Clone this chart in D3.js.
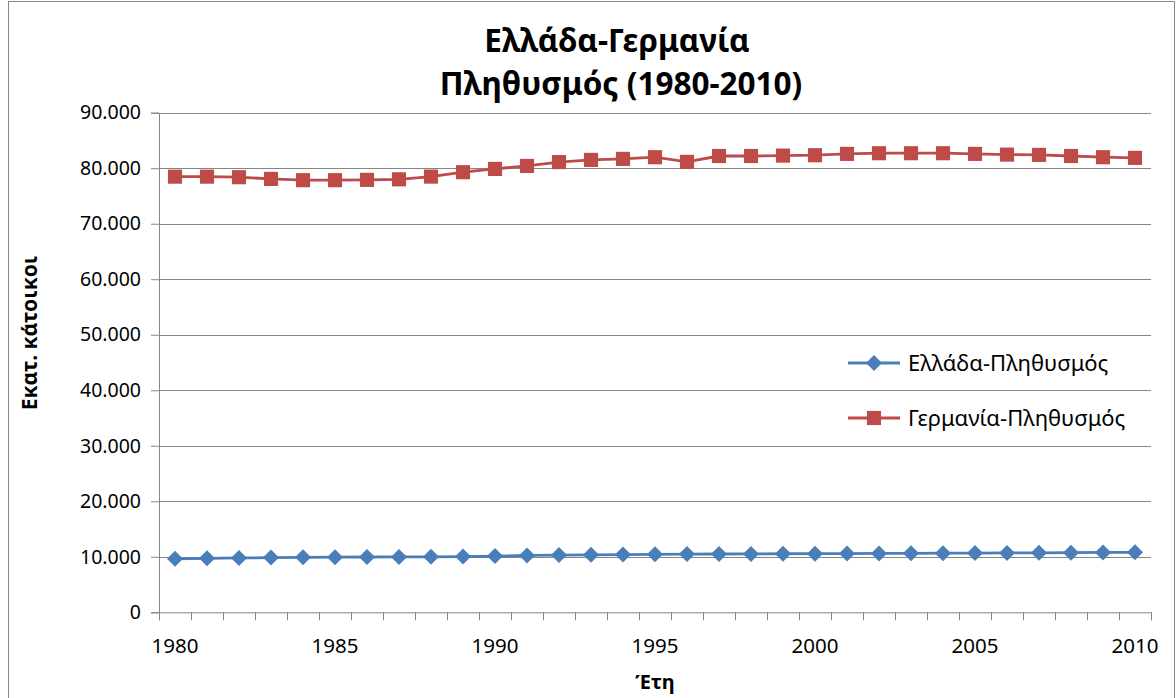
<!DOCTYPE html>
<html>
<head>
<meta charset="utf-8">
<script src="https://cdn.jsdelivr.net/npm/d3@7"></script>
<style>
  html, body { margin: 0; padding: 0; background: #fff; }
  svg { display: block; font-family: "Noto Sans", "DejaVu Sans", sans-serif; }
</style>
</head>
<body>
<svg id="chart" width="1176" height="698"></svg>
<script>
// ---- Data ----
const years = [1980,1981,1982,1983,1984,1985,1986,1987,1988,1989,1990,1991,1992,1993,1994,1995,1996,1997,1998,1999,2000,2001,2002,2003,2004,2005,2006,2007,2008,2009,2010];
const greece = [9640,9730,9790,9850,9900,9930,9960,9980,10000,10040,10120,10250,10300,10350,10400,10450,10480,10500,10520,10550,10560,10570,10600,10620,10650,10670,10700,10720,10750,10780,10800];
const germany = [78480,78480,78380,78070,77840,77840,77900,78000,78490,79280,79870,80410,81100,81500,81680,81980,81140,82200,82200,82270,82340,82580,82700,82700,82700,82580,82450,82400,82200,81980,81860];
const yTicks = [0,10000,20000,30000,40000,50000,60000,70000,80000,90000];
const xLabelYears = [1980,1985,1990,1995,2000,2005,2010];
const seriesNames = ["Ελλάδα-Πληθυσμός","Γερμανία-Πληθυσμός"];
const titleLines = ["Ελλάδα-Γερμανία","Πληθυσμός (1980-2010)"];
const yTitle = "Εκατ. κάτοικοι";
const xTitle = "Έτη";

(function () {
// ---- Layout ----
const svg = d3.select("#chart");
const pl = 159, pr = 1151, pt = 112.7, pb = 612.3;
const blue = "#4A7EBB", red = "#BE4B48";
const gridColor = "#868686";

const locale = d3.formatLocale({decimal: ",", thousands: ".", grouping: [3], currency: ["", "€"]});
const fmt = locale.format(",d");

const x = d3.scaleBand().domain(years).range([pl, pr]).padding(0);
const xIdx = d3.scaleLinear().domain([0, years.length]).range([pl, pr]);
const y = d3.scaleLinear().domain([0, 90000]).range([pb, pt]);
const cx = d => x(d) + x.bandwidth() / 2;

// outer border
svg.append("rect").attr("x", 8.5).attr("y", 1.5).attr("width", 1166).attr("height", 710)
  .attr("fill", "none").attr("stroke", gridColor).attr("stroke-width", 1);

// y axis
const yAxis = d3.axisLeft(y).tickValues(yTicks).tickFormat(fmt).tickSize(8).tickPadding(10);
const gy = svg.append("g").attr("transform", `translate(${pl},0)`).call(yAxis);
gy.select(".domain").attr("stroke", gridColor);
gy.selectAll(".tick line").attr("stroke", gridColor);
gy.selectAll(".tick text").attr("font-size", 19.5).attr("fill", "#000").attr("font-family", "Noto Sans");

// gridlines
svg.append("g").selectAll("line").data(yTicks.filter(v => v > 0)).join("line")
  .attr("x1", pl).attr("x2", pr)
  .attr("y1", d => Math.round(y(d)) + 0.5).attr("y2", d => Math.round(y(d)) + 0.5)
  .attr("stroke", gridColor).attr("stroke-width", 1);

// x axis ticks (category boundaries)
const gx = svg.append("g").attr("transform", `translate(0,${pb})`)
  .call(d3.axisBottom(xIdx).tickValues(d3.range(years.length + 1)).tickFormat("").tickSize(8));
gx.select(".domain").attr("stroke", gridColor);
gx.selectAll(".tick line").attr("stroke", gridColor);

// x labels
const gxl = svg.append("g").attr("transform", `translate(0,${pb})`)
  .call(d3.axisBottom(x).tickValues(xLabelYears).tickSize(0).tickPadding(26));
gxl.select(".domain").remove();
gxl.selectAll(".tick text").attr("font-size", 20.5).attr("fill", "#000").attr("font-family", "Noto Sans");

// lines
const line = vals => d3.line().x((d, i) => cx(years[i])).y(d => y(d))(vals);
svg.append("path").attr("d", line(greece)).attr("fill", "none").attr("stroke", blue).attr("stroke-width", 2.8);
svg.append("path").attr("d", line(germany)).attr("fill", "none").attr("stroke", red).attr("stroke-width", 2.8);

// markers
const diamond = d3.symbol().type(d3.symbolSquare).size(128);
svg.append("g").selectAll("path").data(greece).join("path")
  .attr("d", diamond)
  .attr("transform", (d, i) => `translate(${cx(years[i])},${y(d)}) rotate(45)`)
  .attr("fill", blue);
const square = d3.symbol().type(d3.symbolSquare).size(200);
svg.append("g").selectAll("path").data(germany).join("path")
  .attr("d", square)
  .attr("transform", (d, i) => `translate(${cx(years[i])},${y(d)})`)
  .attr("fill", red);

// legend
const legend = svg.append("g");
const legendRows = [
  {name: seriesNames[0], color: blue, sym: diamond, rot: 45, y: 363},
  {name: seriesNames[1], color: red, sym: square, rot: 0, y: 418}
];
legendRows.forEach(r => {
  legend.append("line").attr("x1", 848).attr("x2", 900).attr("y1", r.y).attr("y2", r.y)
    .attr("stroke", r.color).attr("stroke-width", 2.8);
  legend.append("path").attr("d", r.sym).attr("transform", `translate(874,${r.y}) rotate(${r.rot})`).attr("fill", r.color);
  legend.append("text").attr("x", 908).attr("y", r.y + 8).attr("font-size", 22).attr("fill", "#000").text(r.name);
});

// titles
const title = svg.append("text").attr("text-anchor", "middle").attr("font-weight", "bold")
  .attr("font-size", 31.5).attr("fill", "#000");
title.append("tspan").attr("x", 617).attr("y", 52).text(titleLines[0]);
title.append("tspan").attr("x", 621).attr("y", 95).text(titleLines[1]);

svg.append("text").attr("transform", "translate(37,333) rotate(-90)")
  .attr("text-anchor", "middle").attr("font-weight", "bold").attr("font-size", 21).attr("fill", "#000").text(yTitle);
svg.append("text").attr("x", (pl + pr) / 2).attr("y", 689)
  .attr("text-anchor", "middle").attr("font-weight", "bold").attr("font-size", 20).attr("fill", "#000").text(xTitle);
})();
</script>
</body>
</html>
